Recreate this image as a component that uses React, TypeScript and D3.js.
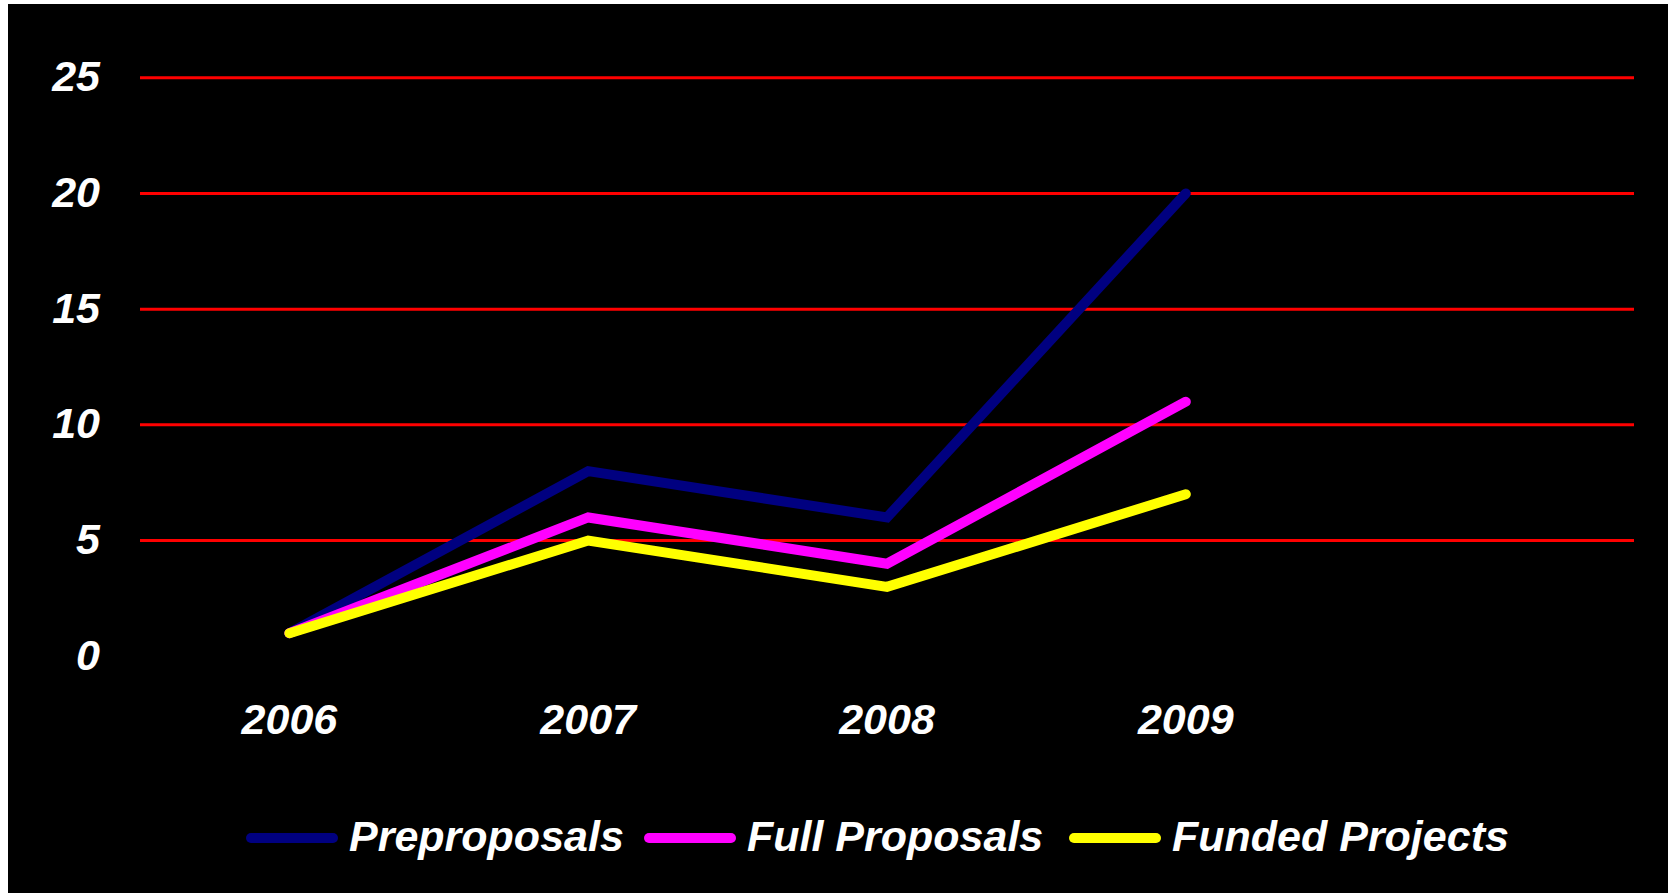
import React from "react";
import * as d3 from "d3";

const years: string[] = ["2006", "2007", "2008", "2009"];
const preproposals: number[] = [1, 8, 6, 20];
const fullProposals: number[] = [1, 6, 4, 11];
const fundedProjects: number[] = [1, 5, 3, 7];
const yTicks: number[] = [0, 5, 10, 15, 20, 25];
const seriesNames: string[] = ["Preproposals", "Full Proposals", "Funded Projects"];
const seriesColors: string[] = ["#000080", "#FF00FF", "#FFFF00"];

const W = 1660;
const H = 889;
const FONT = "'Liberation Sans', Arial, sans-serif";

export default function App() {
  const step = 298.8;
  const gridX0 = 132;
  const gridX1 = gridX0 + 5 * step;
  const x = d3
    .scalePoint<string>()
    .domain(years)
    .range([gridX0 + step / 2, gridX0 + step / 2 + 3 * step]);
  const y = d3.scaleLinear().domain([0, 25]).range([652.3, 73.7]);

  const line = d3
    .line<number>()
    .x((_, i) => x(years[i]) as number)
    .y((d) => y(d));

  const series = [preproposals, fullProposals, fundedProjects];
  const legendX = [238, 636, 1061];
  const legendY = 834;

  return (
    <svg
      width={W}
      height={H}
      style={{ position: "absolute", left: 8, top: 4, display: "block" }}
    >
      <rect x={0} y={0} width={W} height={H} fill="#000" />
      {yTicks
        .filter((t) => t > 0)
        .map((t) => (
          <line
            key={"g" + t}
            x1={gridX0}
            x2={gridX1}
            y1={y(t)}
            y2={y(t)}
            stroke="#FF0000"
            strokeWidth={3}
          />
        ))}
      {yTicks.map((t) => (
        <text
          key={"yl" + t}
          x={92}
          y={y(t) + 13.5}
          textAnchor="end"
          fill="#fff"
          fontFamily={FONT}
          fontWeight="bold"
          fontStyle="italic"
          fontSize={43}
        >
          {t}
        </text>
      ))}
      {years.map((yr) => (
        <text
          key={"xl" + yr}
          x={x(yr) as number}
          y={730}
          textAnchor="middle"
          fill="#fff"
          fontFamily={FONT}
          fontWeight="bold"
          fontStyle="italic"
          fontSize={43}
        >
          {yr}
        </text>
      ))}
      {series.map((s, i) => (
        <path
          key={"s" + i}
          d={line(s) || ""}
          fill="none"
          stroke={seriesColors[i]}
          strokeWidth={10}
          strokeLinecap="round"
          strokeLinejoin="miter"
        />
      ))}
      {seriesNames.map((name, i) => (
        <g key={"lg" + i} transform={`translate(${legendX[i]},${legendY})`}>
          <line
            x1={5}
            x2={87}
            y1={0}
            y2={0}
            stroke={seriesColors[i]}
            strokeWidth={10}
            strokeLinecap="round"
          />
          <text
            x={103}
            y={13}
            fill="#fff"
            fontFamily={FONT}
            fontWeight="bold"
            fontStyle="italic"
            fontSize={43}
          >
            {name}
          </text>
        </g>
      ))}
    </svg>
  );
}
